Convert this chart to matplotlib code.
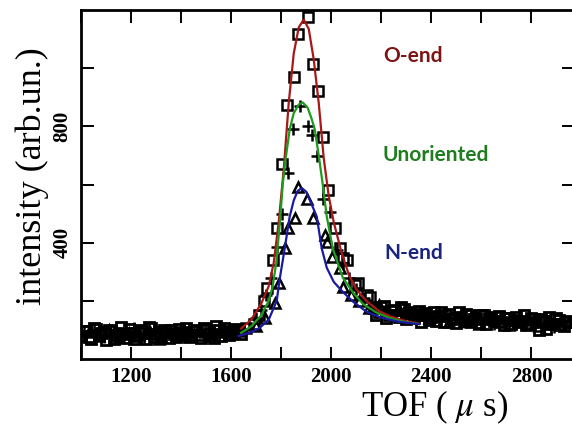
import numpy as np
import matplotlib.pyplot as plt

plt.rcParams['mathtext.fontset'] = 'stix'

# measured points (TOF in us, intensity in arb. units)
sq_left_tof = np.arange(1000, 1660, 20)
sq_left_val = [78, 95, 70, 102, 88, 66, 97, 84, 110, 72, 91, 80, 99, 68, 105, 86, 76,
               93, 101, 74, 89, 108, 82, 95, 71, 99, 87, 112, 79, 96, 90, 104, 85]
sq_left2_tof = np.arange(1010, 1650, 20)
sq_left2_val = [96, 74, 108, 81, 93, 100, 70, 91, 85, 104, 68, 97, 88, 110, 77, 92, 99,
                71, 86, 103, 94, 76, 100, 83, 107, 90, 72, 98, 105, 82, 94, 100]
sq_peak_tof = [1660, 1690, 1710, 1730, 1742, 1766, 1782, 1802, 1822, 1850, 1866, 1906,
               1926, 1946, 1966, 1986, 2014, 2034, 2046, 2062, 2094, 2106, 2142, 2154]
sq_peak_val = [105, 120, 150, 200, 245, 341, 452, 669, 873, 969, 1118, 1176,
               1014, 921, 762, 580, 452, 383, 348, 341, 255, 262, 221, 214]
sq_right_tof = np.arange(2170, 2970, 20)
sq_right_val = [175, 160, 182, 150, 168, 145, 172, 158, 140, 165, 150, 135, 160, 148,
                128, 155, 142, 160, 132, 150, 138, 125, 152, 140, 130, 148, 118, 142,
                135, 126, 150, 122, 138, 100, 130, 145, 120, 135, 112, 128]
sq_right2_tof = np.arange(2180, 2960, 20)
sq_right2_val = [150, 178, 140, 165, 152, 180, 138, 160, 150, 128, 158, 145, 130, 162,
                 150, 136, 125, 145, 155, 128, 142, 150, 122, 136, 145, 128, 140, 120,
                 146, 132, 118, 140, 128, 136, 104, 122, 140, 116, 132]

pl_tof = [1010, 1050, 1090, 1130, 1170, 1210, 1250, 1290, 1330, 1370, 1410, 1450, 1490,
          1530, 1570, 1610, 1650, 1700, 1720, 1740, 1760, 1782, 1802, 1826, 1846, 1874,
          1906, 1922, 1942, 1966, 1994, 2022, 2046, 2070, 2100, 2130, 2170, 2210, 2250,
          2290, 2330, 2370, 2410, 2450, 2490, 2530, 2570, 2610, 2650, 2690, 2730, 2770,
          2810, 2850, 2890, 2930]
pl_val = [88, 100, 76, 94, 83, 105, 72, 96, 86, 79, 102, 90, 74, 98, 88, 95, 100, 140,
          170, 220, 280, 386, 497, 641, 790, 869, 800, 769, 697, 549, 504, 376, 331, 280,
          240, 210, 180, 165, 150, 170, 140, 155, 132, 148, 138, 126, 145, 132, 120, 140,
          128, 118, 135, 124, 110, 130]

tr_tof = [1030, 1070, 1110, 1150, 1190, 1230, 1270, 1310, 1350, 1390, 1430, 1470, 1510,
          1550, 1590, 1630, 1700, 1734, 1774, 1790, 1814, 1826, 1854, 1866, 1902, 1926,
          1974, 1982, 2002, 2034, 2046, 2080, 2110, 2150, 2190, 2230, 2270, 2310, 2350,
          2390, 2430, 2470, 2510, 2550, 2590, 2630, 2670, 2710, 2750, 2790, 2830, 2870,
          2910, 2950]
tr_val = [92, 80, 98, 74, 90, 84, 100, 70, 95, 82, 88, 104, 78, 92, 86, 96, 115, 141,
          193, 260, 383, 452, 486, 593, 549, 486, 428, 404, 352, 314, 248, 220, 200, 175,
          185, 160, 172, 145, 158, 140, 150, 128, 142, 135, 122, 140, 130, 118, 136, 125,
          112, 130, 120, 128]

# fitted curves
o_tof = [1640, 1680, 1720, 1750, 1770, 1790, 1810, 1830, 1850, 1870, 1890, 1910, 1930,
         1950, 1970, 1990, 2010, 2040, 2070, 2100, 2140, 2190, 2240, 2300, 2350]
o_fit = [105, 135, 190, 250, 330, 470, 650, 880, 1050, 1140, 1167, 1135, 1030, 880,
         690, 560, 470, 370, 290, 240, 200, 165, 145, 130, 122]
u_tof = [1640, 1680, 1720, 1750, 1766, 1780, 1794, 1806, 1818, 1834, 1850, 1870, 1886,
         1905, 1920, 1934, 1950, 1966, 1982, 2006, 2046, 2090, 2126, 2180, 2230, 2290, 2350]
u_fit = [90, 112, 150, 200, 250, 330, 460, 600, 690, 790, 845, 875, 882, 865, 830, 790,
         700, 600, 490, 380, 280, 225, 190, 160, 142, 128, 120]
n_tof = [1630, 1680, 1714, 1750, 1782, 1794, 1814, 1834, 1850, 1866, 1882, 1900, 1920,
         1942, 1962, 1982, 2010, 2046, 2090, 2142, 2200, 2270, 2350]
n_fit = [79, 92, 107, 135, 200, 275, 380, 490, 545, 578, 588, 575, 535, 490, 380, 314,
         265, 231, 195, 162, 142, 128, 120]

fig = plt.figure(figsize=(5.72, 4.30), dpi=100)
ax = fig.add_axes([81 / 572, 1 - 359 / 430, 493 / 572, 349 / 430])

mk = dict(color='black', mfc='none', linestyle='none', zorder=2)
ax.plot(sq_left_tof, sq_left_val, 's', ms=7, mew=2, **mk)
ax.plot(sq_left2_tof, sq_left2_val, 's', ms=7, mew=2, **mk)
ax.plot(sq_right_tof, sq_right_val, 's', ms=7, mew=2, **mk)
ax.plot(sq_right2_tof, sq_right2_val, 's', ms=7, mew=2, **mk)
ax.plot(tr_tof, tr_val, '^', ms=7, mew=1.8, **mk)
ax.plot(pl_tof, pl_val, '+', ms=8, mew=1.8, **mk)
ax.plot(sq_peak_tof, sq_peak_val, 's', ms=7, mew=1.8, **mk)

ax.plot(o_tof, o_fit, color='#a81818', lw=1.6, zorder=3)
ax.plot(u_tof, u_fit, color='#1e9a1e', lw=1.6, zorder=3)
ax.plot(n_tof, n_fit, color='#1a1aa0', lw=1.6, zorder=3)

ax.set_xlim(1000, 2970)
ax.set_ylim(0, 1200)
ax.set_xticks([1200, 1600, 2000, 2400, 2800])
ax.set_xticks(np.arange(1000, 3000, 200), minor=True)
ax.set_yticks([400, 800])
ax.set_yticks(np.arange(200, 1200, 200), minor=True)
ax.tick_params(which='both', direction='in', length=9, width=1.4,
               top=True, right=True, pad=6)
ax.tick_params(axis='x', labelsize=15)
ax.tick_params(axis='y', labelsize=15, labelrotation=90)
for lab in ax.get_xticklabels() + ax.get_yticklabels():
    lab.set_family('Liberation Serif')
    lab.set_weight('bold')
for lab in ax.get_yticklabels():
    lab.set_va('center')
for s in ax.spines.values():
    s.set_linewidth(2)

fig.text(32 / 572, 1 - 176 / 430, 'intensity (arb.un.)', rotation=90,
         family='Liberation Serif', fontsize=26, ha='center', va='center')
fig.text(435 / 572, 1 - 407 / 430, r'TOF ( $\mu$ s)',
         family='Liberation Serif', fontsize=25, ha='center', va='center')

fig.text(383 / 572, 1 - 56 / 430, 'O-end', color='#7d1414', fontsize=15,
         family='Lato', weight='bold', va='center')
fig.text(383 / 572, 1 - 155 / 430, 'Unoriented', color='#1f7d1f', fontsize=15,
         family='Lato', weight='bold', va='center')
fig.text(384 / 572, 1 - 253 / 430, 'N-end', color='#1a237e', fontsize=15,
         family='Lato', weight='bold', va='center')

fig.savefig('out.png', dpi=100)
